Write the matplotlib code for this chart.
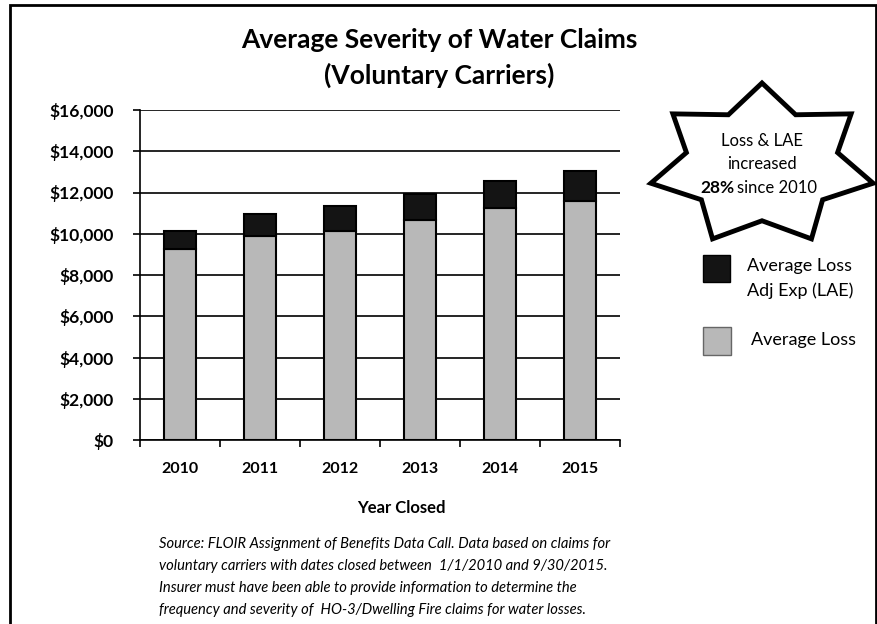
import numpy as np
import matplotlib.pyplot as plt
from matplotlib.patches import Polygon, Rectangle

years = ["2010", "2011", "2012", "2013", "2014", "2015"]
avg_loss = [9250, 9900, 10150, 10650, 11250, 11600]
avg_lae = [900, 1050, 1200, 1300, 1300, 1450]
y_ticks = [0, 2000, 4000, 6000, 8000, 10000, 12000, 14000, 16000]

W, H = 877, 624
plt.rcParams["font.family"] = ["Lato", "DejaVu Sans"]

fig = plt.figure(figsize=(W / 100, H / 100), dpi=100)


def fx(px):
    return px / W


def fy(py):
    return 1 - py / H


ax = fig.add_axes([fx(140), fy(440), fx(620) - fx(140), fy(110) - fy(440)])
x = np.arange(len(years))
ax.bar(x, avg_loss, width=0.4, color="#b8b8b8", edgecolor="black", linewidth=1.5, zorder=3)
ax.bar(x, avg_lae, width=0.4, bottom=avg_loss, color="#141414", edgecolor="black",
       linewidth=1.5, zorder=3)

ax.set_xlim(-0.5, len(years) - 0.5)
ax.set_ylim(0, 16000)
ax.set_yticks(y_ticks)
ax.set_yticklabels([f"${v:,}" for v in y_ticks], fontsize=12.5, fontweight="bold")
ax.yaxis.grid(True, color="black", linewidth=1.2, zorder=0)
ax.set_axisbelow(True)
for s in ["top", "right"]:
    ax.spines[s].set_visible(False)
ax.spines["left"].set_linewidth(1.2)
ax.spines["bottom"].set_linewidth(1.2)
ax.tick_params(axis="y", length=5, width=1.2, pad=14)

# year labels between boundary ticks
ax.set_xticks(np.arange(len(years) + 1) - 0.5)
ax.set_xticklabels([])
ax.tick_params(axis="x", length=5, width=1.2)
for i, yr in enumerate(years):
    ax.text(i, -1400, yr, ha="center", va="center", fontsize=11.5, fontweight="bold")

fig.text(fx(401), fy(508), "Year Closed", ha="center", va="center", fontsize=12,
         fontweight="bold")

fig.text(fx(439), fy(40), "Average Severity of Water Claims", ha="center", va="center",
         fontsize=19, fontweight="bold")
fig.text(fx(439), fy(75), "(Voluntary Carriers)", ha="center", va="center",
         fontsize=19, fontweight="bold")

source = ("Source: FLOIR Assignment of Benefits Data Call. Data based on claims for\n"
          "voluntary carriers with dates closed between  1/1/2010 and 9/30/2015.\n"
          "Insurer must have been able to provide information to determine the\n"
          "frequency and severity of  HO-3/Dwelling Fire claims for water losses.")
fig.text(fx(159), fy(537), source, ha="left", va="top", fontsize=10.6, style="italic",
         linespacing=1.72)

# starburst callout
cx, cy, rx, ry = 762, 165, 114, 82
ang = np.deg2rad(90 + np.arange(14) * 360 / 14)
rr = np.where(np.arange(14) % 2 == 0, 1.0, 0.68)
pts = [(fx(cx + rx * r * np.cos(a)), fy(cy - ry * r * np.sin(a))) for a, r in zip(ang, rr)]
fig.patches.append(Polygon(pts, closed=True, facecolor="white", edgecolor="black",
                           linewidth=3.5, transform=fig.transFigure, zorder=5))
fig.text(fx(762), fy(141), "Loss & LAE", ha="center", va="center", fontsize=12, zorder=6)
fig.text(fx(762), fy(164), "increased", ha="center", va="center", fontsize=12, zorder=6)
fig.text(fx(700), fy(188), "28%", ha="left", va="center", fontsize=12.5,
         fontweight="bold", zorder=6)
fig.text(fx(737), fy(188), "since 2010", ha="left", va="center", fontsize=12, zorder=6)

# legend
fig.patches.append(Rectangle((fx(703), fy(282)), fx(27), fy(255) - fy(282),
                             facecolor="#141414", edgecolor="black",
                             transform=fig.transFigure))
fig.patches.append(Rectangle((fx(703), fy(355)), fx(28), fy(327) - fy(355),
                             facecolor="#b8b8b8", edgecolor="#666666",
                             transform=fig.transFigure))
fig.text(fx(747), fy(266), "Average Loss", ha="left", va="center", fontsize=13)
fig.text(fx(747), fy(291), "Adj Exp (LAE)", ha="left", va="center", fontsize=13)
fig.text(fx(751), fy(340), "Average Loss", ha="left", va="center", fontsize=13)

# page frame
fig.patches.append(Rectangle((fx(10), fy(640)), fx(866), fy(5) - fy(640), fill=False,
                             edgecolor="black", linewidth=2, transform=fig.transFigure))

fig.savefig("out.png", dpi=100)
